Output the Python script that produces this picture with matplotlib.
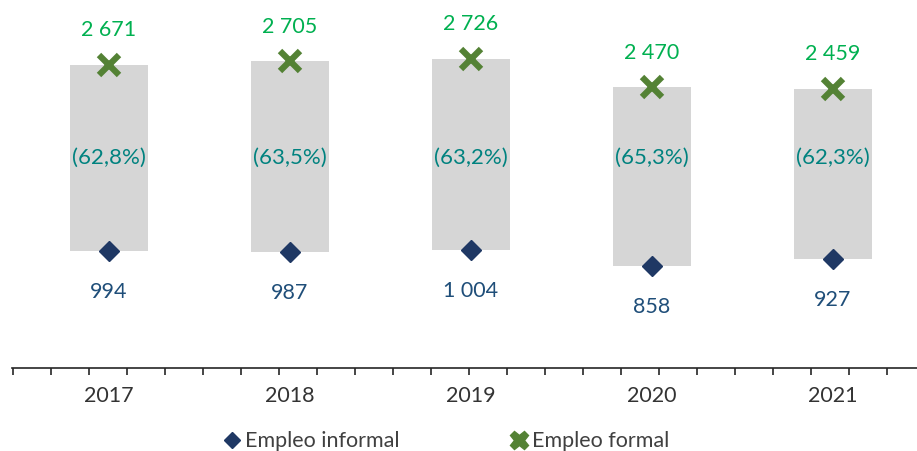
import matplotlib.pyplot as plt

years = ["2017", "2018", "2019", "2020", "2021"]
formal = [2671, 2705, 2726, 2470, 2459]
informal = [994, 987, 1004, 858, 927]
shares = ["(62,8%)", "(63,5%)", "(63,2%)", "(65,3%)", "(62,3%)"]


def fmt(v):
    return f"{v:,}".replace(",", " ")


plt.rcParams["font.family"] = ["Lato", "DejaVu Sans"]

fig = plt.figure(figsize=(9.17, 4.51), dpi=100)
ax = fig.add_axes([12 / 917, 83 / 451, 905 / 917, 368 / 451])

x = list(range(len(years)))

# floating bars between informal and formal
ax.bar(x, [f - i for f, i in zip(formal, informal)], bottom=informal,
       width=0.43, color="#D6D6D6", zorder=1)

ax.plot(x, formal, linestyle="none", marker="x", markersize=14,
        markeredgewidth=4.5, color="#548235", zorder=3)
ax.plot(x, informal, linestyle="none", marker="D", markersize=10,
        color="#1F3864", zorder=3)

for xi, f, i, s in zip(x, formal, informal, shares):
    ax.annotate(fmt(f), (xi, f), xytext=(0, 25), textcoords="offset points",
                ha="center", va="center", fontsize=15.5, color="#00B050")
    ax.annotate(fmt(i), (xi, i), xytext=(0, -29.5), textcoords="offset points",
                ha="center", va="center", fontsize=15.5, color="#1F4E79")
    ax.text(xi, 1833, s, ha="center", va="center", fontsize=16, color="#00827F")

ax.set_xlim(-0.536, 4.464)
ax.set_ylim(-59, 3257)

for side in ["top", "right", "left"]:
    ax.spines[side].set_visible(False)
ax.spines["bottom"].set_linewidth(1.2)
ax.spines["bottom"].set_color("#262626")
ax.set_yticks([])

ax.set_xticks([-0.532 + k * 0.2101 for k in range(24)])
ax.set_xticklabels([])
ax.tick_params(axis="x", direction="out", length=5, width=1.2, color="#262626")
for xi, y in zip(x, years):
    ax.annotate(y, (xi, 0), xycoords=("data", "axes fraction"), xytext=(0, -20),
                textcoords="offset points", ha="center", va="center",
                fontsize=15.5, color="#333333")

h1, = ax.plot([], [], linestyle="none", marker="D", markersize=8, color="#1F3864")
h2, = ax.plot([], [], linestyle="none", marker="X", markersize=13, color="#548235")
fig.legend([h1, h2], ["Empleo informal", "Empleo formal"], loc="center",
           bbox_to_anchor=(0.487, 0.022), ncol=2, frameon=False, fontsize=15.5,
           handlelength=0.7, handletextpad=0.25, columnspacing=5.2,
           labelcolor="#404040")

plt.savefig("out.png", dpi=100)
